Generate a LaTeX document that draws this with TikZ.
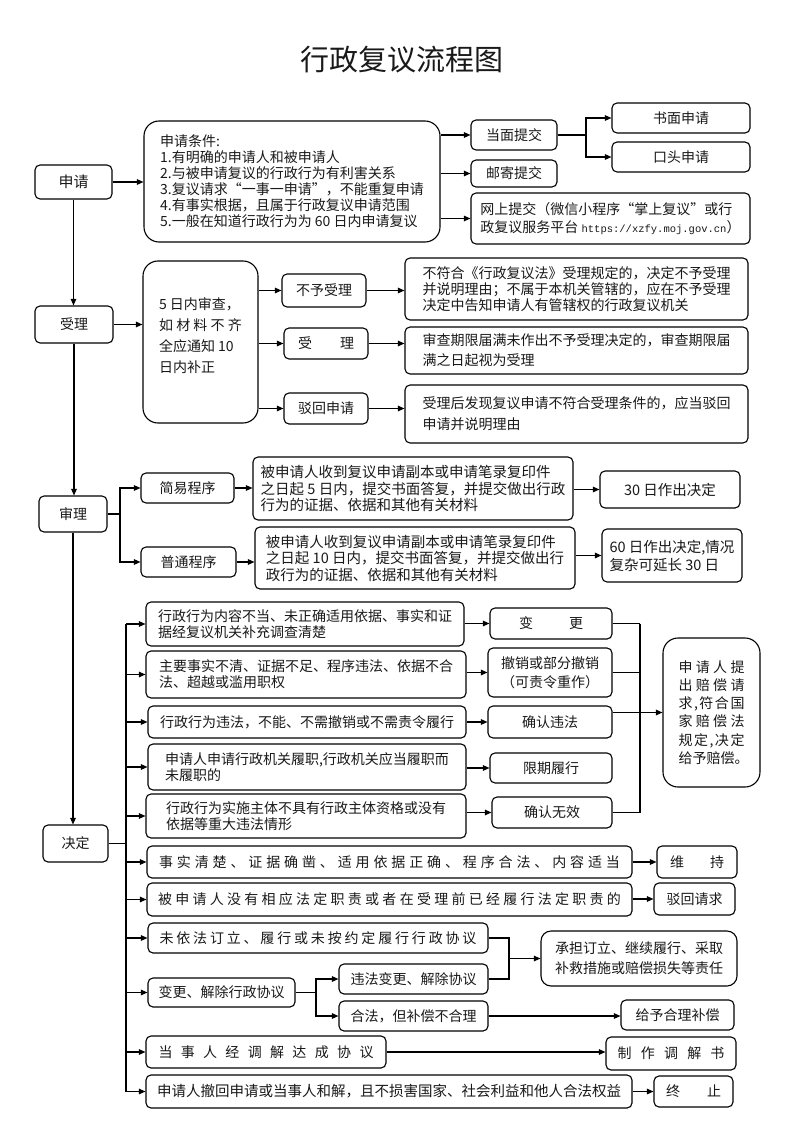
\documentclass[tikz,border=0pt]{standalone}
\usepackage{fontspec}
\setmainfont{Noto Sans CJK SC}
\newfontfamily\urlfont{Liberation Mono}
\usetikzlibrary{arrows.meta}
\makeatletter
\let\sprd@end\relax
\def\sprd#1#2{\makebox[#1][s]{\sprd@a#2\sprd@end}}
\def\sprd@a#1{\ifx#1\sprd@end\else#1\expandafter\sprd@b\fi}
\def\sprd@b#1{\ifx#1\sprd@end\else\hfil#1\expandafter\sprd@b\fi}
\makeatother
\newcommand\fz[2]{\fontsize{#1}{#2}\selectfont}
\newcommand\mybox[6]{\node[box,minimum width={#4-#2},minimum height={#5-#3},#6] (#1) at ({(#2+#4)/2},{(#3+#5)/2})}
\tikzset{
  box/.style={draw=black, line width=1.1pt, rounded corners=5pt, inner sep=0pt, align=center, text=black!90, font=\fz{14}{16}},
  big/.style={rounded corners=15pt},
  arr/.style={-{Triangle[length=6.5pt,width=5.5pt]}, line width=1.1pt},
  ln/.style={line width=1.1pt},
  thk/.style={line width=1.8pt},
}
\begin{document}
\begin{tikzpicture}[x=1pt,y=-1pt]
\useasboundingbox (0,0) rectangle (800,1131);
\fill[white] (0,0) rectangle (800,1131);
\node[text=black!90,font=\fz{29}{32}] (title) at (402,60) {行政复议流程图};
% ---- 申请
\mybox{sq}{35}{165}{112}{199}{font=\fz{15}{17}}{申请};
\mybox{cond}{144}{121}{440}{242}{big,align=left}{申请条件:\\1.有明确的申请人和被申请人\\2.与被申请复议的行政行为有利害关系\\3.复议请求“一事一申请”，不能重复申请\\4.有事实根据，且属于行政复议申请范围\\5.一般在知道行政行为为 60 日内申请复议};
\mybox{dm}{471}{120}{557}{150}{}{当面提交};
\mybox{yj}{471}{160}{557}{187}{}{邮寄提交};
\mybox{ws}{471}{193}{750}{244}{align=left,font=\fz{14}{18}}{网上提交（微信小程序“掌上复议”或行\\政复议服务平台 {\urlfont\fontsize{10.5}{12}\selectfont https://xzfy.moj.gov.cn}）};
\mybox{sm}{612}{103}{750}{133}{}{书面申请};
\mybox{kt}{612}{142}{750}{172}{}{口头申请};
% ---- 受理
\mybox{sl}{35}{306}{113}{343}{}{受理};
\mybox{wr}{143}{261}{258}{423}{big,align=left,font=\fz{14}{21}}{5 日内审查，\\\sprd{83pt}{如材料不齐}\\全应通知 10\\日内补正\\[-7pt]\mbox{}};
\mybox{byl}{282}{274}{366}{307}{}{不予受理};
\mybox{sl2}{284}{328}{368}{359}{}{\sprd{56pt}{受理}};
\mybox{bh}{284}{393}{368}{424}{}{驳回申请};
\mybox{t1}{405}{258}{748}{320}{align=left,font=\fz{14}{16}}{不符合《行政复议法》受理规定的，决定不予受理\\并说明理由；不属于本机关管辖的，应在不予受理\\决定中告知申请人有管辖权的行政复议机关};
\mybox{t2}{405}{327}{748}{374}{align=left,font=\fz{14}{20}}{审查期限届满未作出不予受理决定的，审查期限届\\满之日起视为受理};
\mybox{t3}{405}{385}{748}{443}{align=left,font=\fz{14}{21}}{受理后发现复议申请不符合受理条件的，应当驳回\\申请并说明理由};
% ---- 审理
\mybox{sh}{39}{496}{107}{532}{}{审理};
\mybox{jy}{141}{473}{234}{503}{}{简易程序};
\mybox{pt}{141}{547}{236}{577}{}{普通程序};
\mybox{s1}{253}{457}{573}{520}{align=left,font=\fz{14.5}{16.5}}{被申请人收到复议申请副本或申请笔录复印件\\之日起 5 日内，提交书面答复，并提交做出行政\\行为的证据、依据和其他有关材料};
\mybox{s2}{255}{527}{575}{589}{align=left,font=\fz{14.5}{16.5}}{被申请人收到复议申请副本或申请笔录复印件\\之日起 10 日内，提交书面答复，并提交做出行\\政行为的证据、依据和其他有关材料};
\mybox{d30}{600}{471}{740}{508}{font=\fz{14.5}{17}}{30 日作出决定};
\mybox{d60}{602}{529}{742}{582}{align=left,font=\fz{14.5}{18}}{60 日作出决定,情况\\复杂可延长 30 日};
% ---- 决定
\mybox{jd}{43}{825}{108}{862}{}{决定};
\mybox{r1}{146}{602}{464}{646}{align=left}{行政行为内容不当、未正确适用依据、事实和证\\据经复议机关补充调查清楚};
\mybox{r2}{146}{651}{466}{698}{align=left}{主要事实不清、证据不足、程序违法、依据不合\\法、超越或滥用职权};
\mybox{r3}{148}{706}{466}{738}{}{行政行为违法，不能、不需撤销或不需责令履行};
\mybox{r4}{148}{744}{466}{790}{align=left}{申请人申请行政机关履职,行政机关应当履职而\\未履职的};
\mybox{r5}{146}{794}{466}{838}{align=left}{行政行为实施主体不具有行政主体资格或没有\\依据等重大违法情形};
\mybox{o1}{490}{608}{612}{639}{}{\sprd{64pt}{变更}};
\mybox{o2}{488}{648}{612}{697}{font=\fz{14}{19}}{撤销或部分撤销\\（可责令重作）};
\mybox{o3}{488}{706}{612}{738}{}{确认违法};
\mybox{o4}{490}{753}{612}{783}{}{限期履行};
\mybox{o5}{492}{797}{612}{828}{}{确认无效};
\mybox{pc}{663}{638}{760}{787}{big,font=\fz{14}{18.3}}{\sprd{66pt}{申请人提}\\\sprd{66pt}{出赔偿请}\\\sprd{66pt}{求,符合国}\\\sprd{66pt}{家赔偿法}\\\sprd{66pt}{规定,决定}\\\sprd{66pt}{给予赔偿。}};
\mybox{r6}{147}{846}{632}{878}{}{\sprd{461pt}{事实清楚、证据确凿、适用依据正确、程序合法、内容适当}};
\mybox{o6}{657}{846}{737}{878}{}{\sprd{54pt}{维持}};
\mybox{r7}{147}{883}{632}{916}{}{\sprd{463pt}{被申请人没有相应法定职责或者在受理前已经履行法定职责的}};
\mybox{o7}{654}{883}{735}{915}{}{驳回请求};
\mybox{r8}{148}{923}{488}{953}{}{\sprd{317pt}{未依法订立、履行或未按约定履行行政协议}};
\mybox{cd}{541}{931}{737}{986}{big,rounded corners=10pt,font=\fz{14}{20}}{承担订立、继续履行、采取\\补救措施或赔偿损失等责任};
\mybox{wf}{339}{964}{488}{994}{}{违法变更、解除协议};
\mybox{r9}{148}{978}{295}{1007}{}{变更、解除行政协议};
\mybox{hf}{339}{1001}{488}{1031}{}{合法，但补偿不合理};
\mybox{gy}{621}{1000}{734}{1030}{}{给予合理补偿};
\mybox{r10}{146}{1036}{386}{1068}{}{\sprd{215pt}{当事人经调解达成协议}};
\mybox{zz}{606}{1037}{736}{1070}{}{\sprd{107pt}{制作调解书}};
\mybox{r11}{146}{1075}{632}{1108}{font=\fz{14.5}{17}}{申请人撤回申请或当事人和解，且不损害国家、社会利益和他人合法权益};
\mybox{zh}{654}{1076}{733}{1107}{}{\sprd{55pt}{终止}};
% ---- connectors: 申请
\draw[arr] (sq.east) -- (cond.west |- sq.east);
\draw[arr] (cond.east |- dm.west) -- (dm.west);
\draw[arr] (cond.east |- yj.west) -- (yj.west);
\draw[arr] (cond.east |- ws.west) -- (ws.west);
\coordinate (b1) at (586,135);
\draw[ln] (dm.east) -- (b1);
\draw[arr] (b1) |- (sm.west);
\draw[arr] (b1) |- (kt.west);
\draw[arr] (sq.south) -- (sq.south |- sl.north);
% 受理
\draw[arr] (sl.east) -- (wr.west |- sl.east);
\draw[arr] (wr.east |- byl.west) -- (byl.west);
\draw[arr] (wr.east |- sl2.west) -- (sl2.west);
\draw[arr] (wr.east |- bh.west) -- (bh.west);
\draw[arr] (byl.east) -- (t1.west |- byl.east);
\draw[arr] (sl2.east) -- (t2.west |- sl2.east);
\draw[arr] (bh.east) -- (t3.west |- bh.east);
\draw[arr] (sl.south) -- (sl.south |- sh.north);
% 审理
\coordinate (b2) at (120,514);
\draw[ln] (sh.east) -- (b2);
\draw[arr] (b2) |- (jy.west);
\draw[arr] (b2) |- (pt.west);
\draw[arr] (jy.east) -- (s1.west |- jy.east);
\draw[arr] (s1.east |- d30.west) -- (d30.west);
\draw[arr] (pt.east) -- (s2.west |- pt.east);
\draw[arr] (s2.east |- d60.west) -- (d60.west);
\draw[arr] (sh.south) -- (sh.south |- jd.north);
% 决定
\coordinate (sp) at (126,0);
\draw[ln] (jd.east) -- (jd.east -| sp);
\draw[ln] (sp |- r1.west) -- (sp |- r11.west);
\foreach \nm in {r1,r2,r3,r4,r5,r6,r7,r8,r9,r10,r11}
  \draw[arr] (sp |- \nm.west) -- (\nm.west);
\foreach \aa/\bb in {r1/o1,r2/o2,r3/o3,r4/o4,r5/o5,r6/o6,r7/o7}
  \draw[arr] (\aa.east |- \bb.west) -- (\bb.west);
\coordinate (col) at (640,0);
\foreach \nm in {o1,o2,o5}
  \draw[ln] (\nm.east) -- (\nm.east -| col);
\draw[ln] (o3.east |- pc.west) -- (col |- pc.west);
\draw[ln] (col |- o1.east) -- (col |- o5.east);
\draw[arr] (col |- pc.west) -- (pc.west);
\coordinate (c2) at (509,0);
\draw[thk] (r8.east) -- (r8.east -| c2) -- (wf.east -| c2) -- (wf.east);
\draw[arr] (c2 |- cd.west) -- (cd.west);
\coordinate (c3) at (316,0);
\draw[ln] (r9.east) -- (r9.east -| c3);
\draw[arr] (r9.east -| c3) |- (wf.west);
\draw[arr] (r9.east -| c3) |- (hf.west);
\draw[arr] (hf.east) -- (gy.west |- hf.east);
\draw[arr] (r10.east) -- (zz.west |- r10.east);
\draw[arr] (r11.east) -- (zh.west |- r11.east);
\end{tikzpicture}
\end{document}
